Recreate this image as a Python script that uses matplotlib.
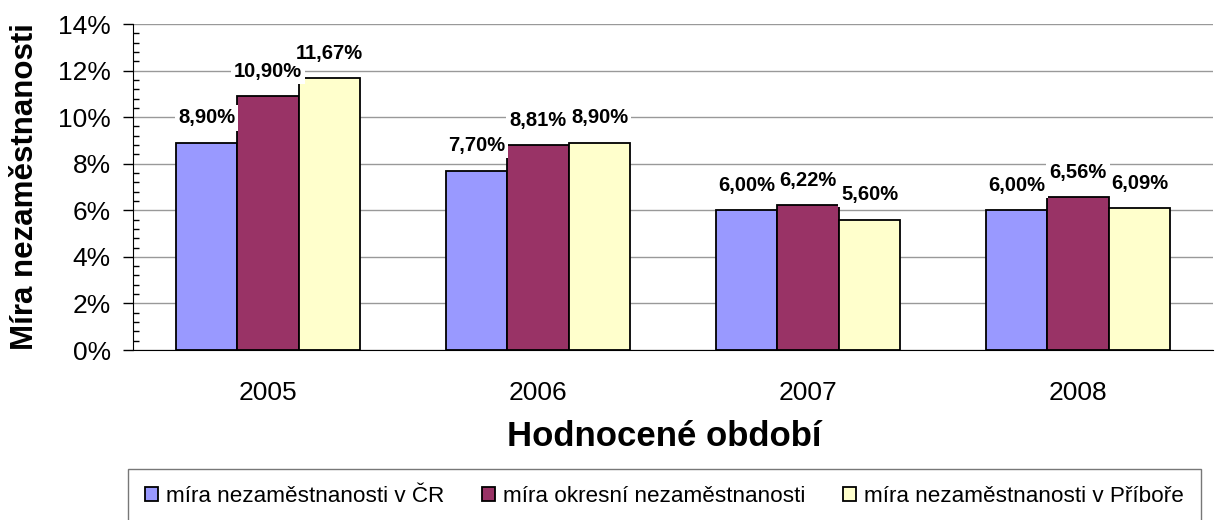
import numpy as np
import matplotlib
matplotlib.use('Agg')
import matplotlib.pyplot as plt
from matplotlib.ticker import MultipleLocator, FuncFormatter

plt.rcParams['font.family'] = ['Liberation Sans', 'DejaVu Sans']

years = ['2005', '2006', '2007', '2008']
cr = [8.90, 7.70, 6.00, 6.00]
okres = [10.90, 8.81, 6.22, 6.56]
pribor = [11.67, 8.90, 5.60, 6.09]
series_names = ['míra nezaměstnanosti v ČR', 'míra okresní nezaměstnanosti',
                'míra nezaměstnanosti v Příboře']
colors = ['#9999FF', '#993366', '#FFFFCC']

fig = plt.figure(figsize=(12.25, 5.2), dpi=100)
ax = fig.add_axes([133 / 1225, 1 - 350 / 520, 1080 / 1225, 326 / 520])

x = np.arange(len(years))
w = 0.228
bars = []
for i, (vals, name, c) in enumerate(zip([cr, okres, pribor], series_names, colors)):
    b = ax.bar(x + (i - 1) * w, vals, w, color=c, edgecolor='black', linewidth=1.3,
               label=name, zorder=3)
    bars.append(b)
    for rect, v in zip(b, vals):
        ax.annotate(f'{v:.2f}%'.replace('.', ','),
                    (rect.get_x() + rect.get_width() / 2, rect.get_height()),
                    xytext=(0, 11), textcoords='offset points', ha='center', va='bottom',
                    fontsize=14.5, fontweight='bold', zorder=5,
                    bbox=dict(boxstyle='square,pad=0.15', fc='white', ec='none'))

ax.set_xlim(-0.5, 3.5)
ax.set_ylim(0, 14)
ax.yaxis.set_major_locator(MultipleLocator(2))
ax.yaxis.set_minor_locator(MultipleLocator(0.4))
ax.yaxis.set_major_formatter(FuncFormatter(lambda v, p: f'{v:.0f}%'))
ax.grid(axis='y', color='#999999', linewidth=1, zorder=0)
ax.set_axisbelow(True)

ax.set_xticks(x)
ax.set_xticklabels(years)
ax.tick_params(axis='x', length=0, pad=22, labelsize=19)
ax.tick_params(axis='y', which='major', direction='out', length=7, width=1, pad=9, labelsize=19)
ax.tick_params(axis='y', which='minor', direction='in', length=4, width=1)

for s in ['top', 'right']:
    ax.spines[s].set_visible(False)

ax.set_ylabel('Míra nezaměstnanosti', fontsize=22.5, fontweight='bold')
ax.yaxis.set_label_coords(-0.086, 0.5)
ax.set_xlabel('Hodnocené období', fontsize=25, fontweight='bold')
ax.xaxis.set_label_coords(0.492, -0.215)

leg = fig.legend(handles=bars, labels=series_names, loc='upper left',
                 bbox_to_anchor=(128 / 1225, 1 - 469 / 520), borderaxespad=0,
                 ncol=3, fontsize=16.2, frameon=True, fancybox=False,
                 handlelength=0.6, handleheight=0.6, handletextpad=0.35,
                 columnspacing=1.65, borderpad=0.75)
leg.get_frame().set_edgecolor('#555555')
leg.get_frame().set_linewidth(1)

fig.savefig('out.png', dpi=100)
